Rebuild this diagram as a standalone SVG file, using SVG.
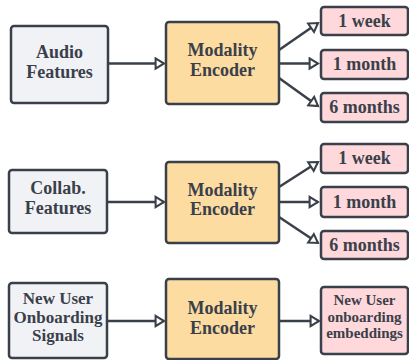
<svg xmlns="http://www.w3.org/2000/svg" width="409" height="360" viewBox="0 0 409 360">
<style>
.box{stroke:#3a404a;stroke-width:2.5}
.in{fill:#f1f2f5}
.enc{fill:#fddca2}
.out{fill:#fed8db}
.lbl text{font-family:'Liberation Serif','DejaVu Serif',serif;font-weight:bold;fill:#3a404a;text-anchor:middle}
.t18{font-size:18px}
.t17{font-size:17px}
.t15{font-size:15px}
.conn line{stroke:#3a404a;stroke-width:2.5;marker-end:url(#arr)}
</style>
<defs>
<marker id="arr" markerUnits="userSpaceOnUse" markerWidth="14" markerHeight="14" viewBox="-2 -2 14 15" refX="9" refY="5.5" orient="auto">
<path d="M0,0 L9,5.5 L0,11 Z" fill="#ffffff" stroke="#3a404a" stroke-width="2.2" stroke-linejoin="miter"/>
</marker>
</defs>
<rect width="409" height="360" fill="#ffffff"/>

<g class="conn" id="connectors">
<line x1="108" y1="63.5" x2="164" y2="63.5"/>
<line x1="279" y1="50" x2="318" y2="23"/>
<line x1="279" y1="63.5" x2="318" y2="63.5"/>
<line x1="279" y1="78" x2="318" y2="106"/>
<line x1="107" y1="202" x2="164" y2="202"/>
<line x1="279" y1="187" x2="318" y2="162"/>
<line x1="279" y1="202" x2="318" y2="202"/>
<line x1="279" y1="217" x2="318" y2="243"/>
<line x1="107" y1="321" x2="164" y2="321"/>
<line x1="279" y1="321" x2="319" y2="321"/>
</g>

<g class="lbl" font-family="Liberation Serif, DejaVu Serif, serif">
<g id="audio">
<rect class="box in" x="11" y="26" width="97" height="77" rx="3"/>
<text class="t18" x="59.5" y="57.5">Audio</text>
<text class="t18" x="59.5" y="77.5">Features</text>
</g>
<g id="enc1">
<rect class="box enc" x="166" y="22" width="113" height="82" rx="3"/>
<text class="t18" x="222.5" y="55.5">Modality</text>
<text class="t18" x="222.5" y="76">Encoder</text>
</g>
<g id="w1">
<rect class="box out" x="321" y="7" width="87" height="28" rx="3"/>
<text class="t18" x="364.5" y="27">1 week</text>
</g>
<g id="m1">
<rect class="box out" x="321" y="50" width="87" height="29" rx="3"/>
<text class="t18" x="364.5" y="70">1 month</text>
</g>
<g id="s1">
<rect class="box out" x="321" y="93" width="87" height="29" rx="3"/>
<text class="t18" x="364.5" y="113">6 months</text>
</g>

<g id="collab">
<rect class="box in" x="9" y="170" width="98" height="63" rx="3"/>
<text class="t18" x="58" y="193.5">Collab.</text>
<text class="t18" x="58" y="213.5">Features</text>
</g>
<g id="enc2">
<rect class="box enc" x="166" y="162" width="113" height="81" rx="3"/>
<text class="t18" x="222.5" y="195.5">Modality</text>
<text class="t18" x="222.5" y="215">Encoder</text>
</g>
<g id="w2">
<rect class="box out" x="321" y="144" width="87" height="29" rx="3"/>
<text class="t18" x="364.5" y="164">1 week</text>
</g>
<g id="m2">
<rect class="box out" x="321" y="187" width="87" height="30" rx="3"/>
<text class="t18" x="364.5" y="208">1 month</text>
</g>
<g id="s2">
<rect class="box out" x="321" y="231" width="87" height="28" rx="3"/>
<text class="t18" x="364.5" y="251">6 months</text>
</g>

<g id="newuser">
<rect class="box in" x="9" y="283" width="98" height="75" rx="3"/>
<text class="t17" x="58" y="303.5">New User</text>
<text class="t17" x="58" y="322.5">Onboarding</text>
<text class="t17" x="58" y="341">Signals</text>
</g>
<g id="enc3">
<rect class="box enc" x="166" y="279" width="113" height="80" rx="3"/>
<text class="t18" x="222.5" y="313.5">Modality</text>
<text class="t18" x="222.5" y="334">Encoder</text>
</g>
<g id="emb">
<rect class="box out" x="321" y="287" width="87" height="67" rx="3"/>
<text class="t15" x="364.5" y="305">New User</text>
<text class="t15" x="364.5" y="321.5">onboarding</text>
<text class="t15" x="364.5" y="337.5">embeddings</text>
</g>
</g>
</svg>
